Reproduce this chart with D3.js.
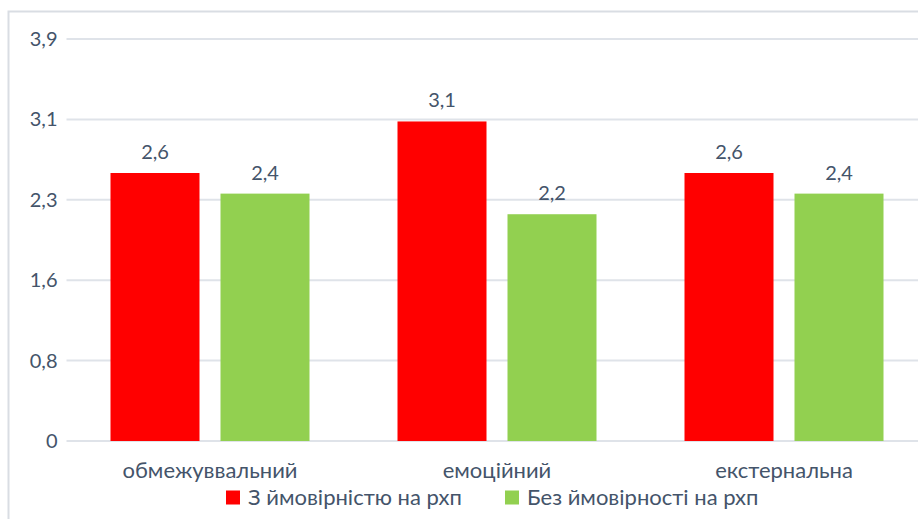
<!DOCTYPE html>
<html>
<head>
<meta charset="utf-8">
<script src="https://cdn.jsdelivr.net/npm/d3@7"></script>
<style>
  html, body { margin: 0; padding: 0; background: #fff; }
  svg { display: block; }
  text { font-family: Lato, "Open Sans", sans-serif; fill: #44546a; }
</style>
</head>
<body>
<svg id="chart" width="918" height="519"></svg>
<script>
const categories = ["обмежуввальний", "емоційний", "екстернальна"];
const seriesNames = ["З ймовірністю на рхп", "Без ймовірності на рхп"];
const withProb = [2.6, 3.1, 2.6];
const withoutProb = [2.4, 2.2, 2.4];
const tickValues = [0, 0.78, 1.56, 2.34, 3.12, 3.9];
const colors = ["#ff0000", "#92d050"];

const svg = d3.select("#chart");
const W = 918, H = 519;
const margin = { left: 66.5, right: -9.5, top: 39, bottom: 78 };

// outer frame
svg.append("rect")
  .attr("x", 8.5).attr("y", 11.5)
  .attr("width", W + 20).attr("height", H + 20)
  .attr("fill", "none").attr("stroke", "#d9dde3").attr("stroke-width", 2);

const x0 = d3.scaleBand()
  .domain(categories)
  .range([margin.left, W - margin.right])
  .paddingInner(0).paddingOuter(0);

const x1 = d3.scaleBand()
  .domain([0, 1])
  .range([44, x0.bandwidth() - 44])
  .paddingInner(21 / 110);

const y = d3.scaleLinear()
  .domain([0, 3.9])
  .range([H - margin.bottom, margin.top]);

const fmt = v => v === 0 ? "0" : d3.format(".1f")(v).replace(".", ",");

// gridlines
svg.append("g")
  .selectAll("line")
  .data(tickValues)
  .join("line")
  .attr("x1", margin.left).attr("x2", W)
  .attr("y1", d => y(d)).attr("y2", d => y(d))
  .attr("stroke", "#dfe3e9").attr("stroke-width", 2);

// y axis labels
const yAxis = d3.axisLeft(y).tickValues(tickValues).tickFormat(fmt).tickSize(0).tickPadding(9);
const yg = svg.append("g").attr("transform", `translate(${margin.left},0)`).call(yAxis);
yg.select(".domain").remove();
yg.selectAll("text").style("font-size", "20px").attr("fill", "#44546a")
  .style("font-family", "Lato, 'Open Sans', sans-serif");

// bars
const rows = categories.map((c, i) => ({ cat: c, vals: [withProb[i], withoutProb[i]] }));
const groups = svg.append("g").selectAll("g")
  .data(rows).join("g")
  .attr("transform", d => `translate(${x0(d.cat)},0)`);

groups.selectAll("rect")
  .data(d => d.vals.map((v, k) => ({ v, k })))
  .join("rect")
  .attr("x", d => x1(d.k))
  .attr("width", x1.bandwidth())
  .attr("y", d => y(d.v))
  .attr("height", d => y(0) - y(d.v))
  .attr("fill", d => colors[d.k]);

groups.selectAll("text.val")
  .data(d => d.vals.map((v, k) => ({ v, k })))
  .join("text")
  .attr("class", "val")
  .attr("x", d => x1(d.k) + x1.bandwidth() / 2)
  .attr("y", d => y(d.v) - 14)
  .attr("text-anchor", "middle")
  .style("font-size", "20px")
  .text(d => d3.format(".1f")(d.v).replace(".", ","));

// x axis labels
const xAxis = d3.axisBottom(x0).tickSize(0).tickPadding(21);
const xg = svg.append("g").attr("transform", `translate(0,${y(0)})`).call(xAxis);
xg.select(".domain").remove();
xg.selectAll("text").style("font-size", "22px").attr("fill", "#44546a")
  .style("font-family", "Lato, 'Open Sans', sans-serif");

// legend
const legendX = [226, 505];
const legend = svg.append("g").selectAll("g")
  .data(seriesNames).join("g")
  .attr("transform", (d, i) => `translate(${legendX[i]},490.5)`);
legend.append("rect").attr("width", 14).attr("height", 14).attr("fill", (d, i) => colors[i]);
legend.append("text").attr("x", 22).attr("y", 14).style("font-size", "22px").text(d => d);
</script>
</body>
</html>
